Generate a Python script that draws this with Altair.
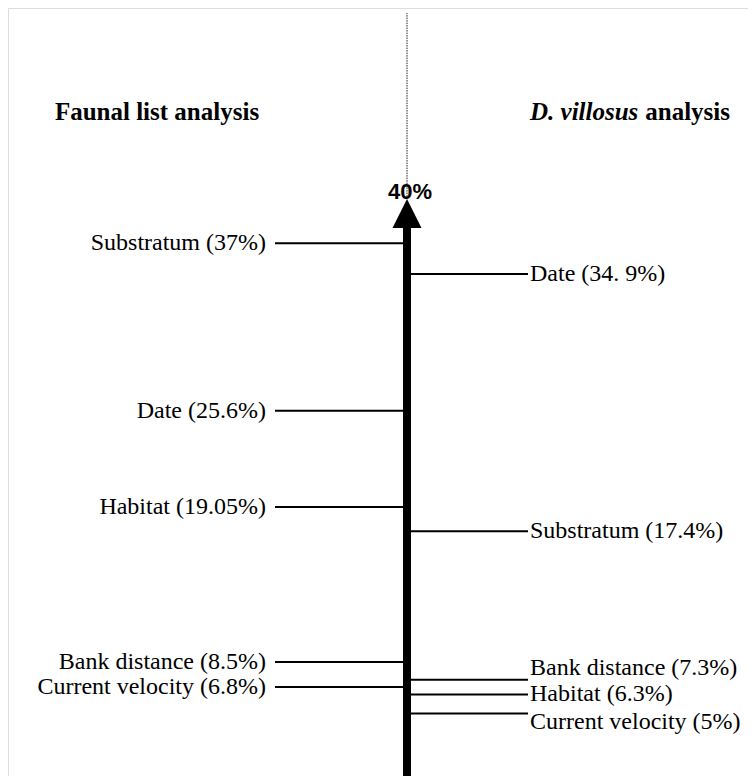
import altair as alt
import pandas as pd

# ---- data ----
left_factors = ["Substratum", "Date", "Habitat", "Bank distance", "Current velocity"]
left_values = [37, 25.6, 19.05, 8.5, 6.8]
left_labels = ["Substratum (37%)", "Date (25.6%)", "Habitat (19.05%)",
               "Bank distance (8.5%)", "Current velocity (6.8%)"]

right_factors = ["Date", "Substratum", "Habitat", "Bank distance", "Current velocity"]
right_values = [34.9, 17.4, 6.3, 7.3, 5]
right_labels = ["Date (34. 9%)", "Substratum (17.4%)", "Habitat (6.3%)",
                "Bank distance (7.3%)", "Current velocity (5%)"]

axis_max = [40]
axis_label = ["40%"]
left_title = "Faunal list analysis"
right_title_italic = "D. villosus"
right_title_rest = "analysis"

# ---- layout / style constants ----
W, H = 740, 768
LEFT_LEN, RIGHT_LEN = 131, 122
SERIF = "Liberation Serif"
PX_PER_UNIT = 14.7
# small vertical label nudges (pixels, positive = up) so crowded labels stay legible
RIGHT_NUDGE = {"Bank distance": 12, "Current velocity": -8}

xs = alt.Scale(domain=[-398, 342], nice=False, zero=False)
ys = alt.Scale(domain=[0.75, 53.0], nice=False, zero=False)

left_df = pd.DataFrame({"factor": left_factors, "value": left_values, "label": left_labels})
left_df["x0"] = -LEFT_LEN
left_df["x1"] = 0
left_df["tx"] = -LEFT_LEN - 9
left_df["ty"] = left_df["value"]

right_df = pd.DataFrame({"factor": right_factors, "value": right_values, "label": right_labels})
right_df["x0"] = 0
right_df["x1"] = RIGHT_LEN
right_df["tx"] = RIGHT_LEN + 2
right_df["ty"] = right_df["value"] + right_df["factor"].map(RIGHT_NUDGE).fillna(0) / PX_PER_UNIT

axis_df = pd.DataFrame({"value": axis_max, "label": axis_label})
axis_df["x"] = 1
axis_df["tx"] = 4
axis_df["shaft_top"] = axis_df["value"] - 1.7

X = lambda f: alt.X(f, type="quantitative", scale=xs, axis=None)
Y = lambda f: alt.Y(f, type="quantitative", scale=ys, axis=None)

dotted = alt.Chart(axis_df).mark_rule(strokeDash=[1.5, 1], strokeWidth=1, color="#222").encode(
    x=X("x"), y=Y("value"), y2=alt.value(5))

shaft = alt.Chart(axis_df).mark_rule(strokeWidth=8, color="black").encode(
    x=X("x"), y=Y("shaft_top"), y2=alt.value(H + 10))

head = alt.Chart(axis_df).mark_point(shape="M-1,2L1,2L0,0Z", size=841, filled=True,
                                     color="black", opacity=1, strokeWidth=0).encode(
    x=X("x"), y=Y("value"))

head_text = alt.Chart(axis_df).mark_text(font="Liberation Sans", fontWeight="bold", fontSize=22,
                                         dy=-7, baseline="middle", align="center", color="black").encode(
    x=X("tx"), y=Y("value"), text="label:N")

left_lines = alt.Chart(left_df).mark_rule(strokeWidth=2, color="black").encode(
    x=X("x0"), x2="x1", y=Y("value"))
right_lines = alt.Chart(right_df).mark_rule(strokeWidth=2, color="black").encode(
    x=X("x0"), x2="x1", y=Y("value"))

left_text = alt.Chart(left_df).mark_text(font=SERIF, fontSize=24, align="right",
                                         baseline="middle", color="black").encode(
    x=X("tx"), y=Y("ty"), text="label:N")
right_text = alt.Chart(right_df).mark_text(font=SERIF, fontSize=24, align="left",
                                           baseline="middle", color="black").encode(
    x=X("tx"), y=Y("ty"), text="label:N")

titles_df = pd.DataFrame({"t": [left_title], "x": [-249]})
title_left = alt.Chart(titles_df).mark_text(font=SERIF, fontSize=25, fontWeight="bold",
                                            align="center", baseline="middle", color="black").encode(
    x=X("x"), y=alt.value(104), text="t:N")

rt1 = pd.DataFrame({"t": [right_title_italic], "x": [124]})
rt2 = pd.DataFrame({"t": [right_title_rest], "x": [324]})
title_r1 = alt.Chart(rt1).mark_text(font=SERIF, fontSize=25, fontWeight="bold", fontStyle="italic",
                                    align="left", baseline="middle", color="black").encode(
    x=X("x"), y=alt.value(104), text="t:N")
title_r2 = alt.Chart(rt2).mark_text(font=SERIF, fontSize=25, fontWeight="bold",
                                    align="right", baseline="middle", color="black").encode(
    x=X("x"), y=alt.value(104), text="t:N")

chart = alt.layer(
    dotted, left_lines, right_lines, shaft, head, head_text,
    left_text, right_text, title_left, title_r1, title_r2
).properties(
    width=W, height=H, padding=0, autosize=alt.AutoSizeParams(type="none")
).configure_view(stroke=None).configure(background="white")

chart.save("out.html", embed_options={"renderer": "svg", "actions": False})
